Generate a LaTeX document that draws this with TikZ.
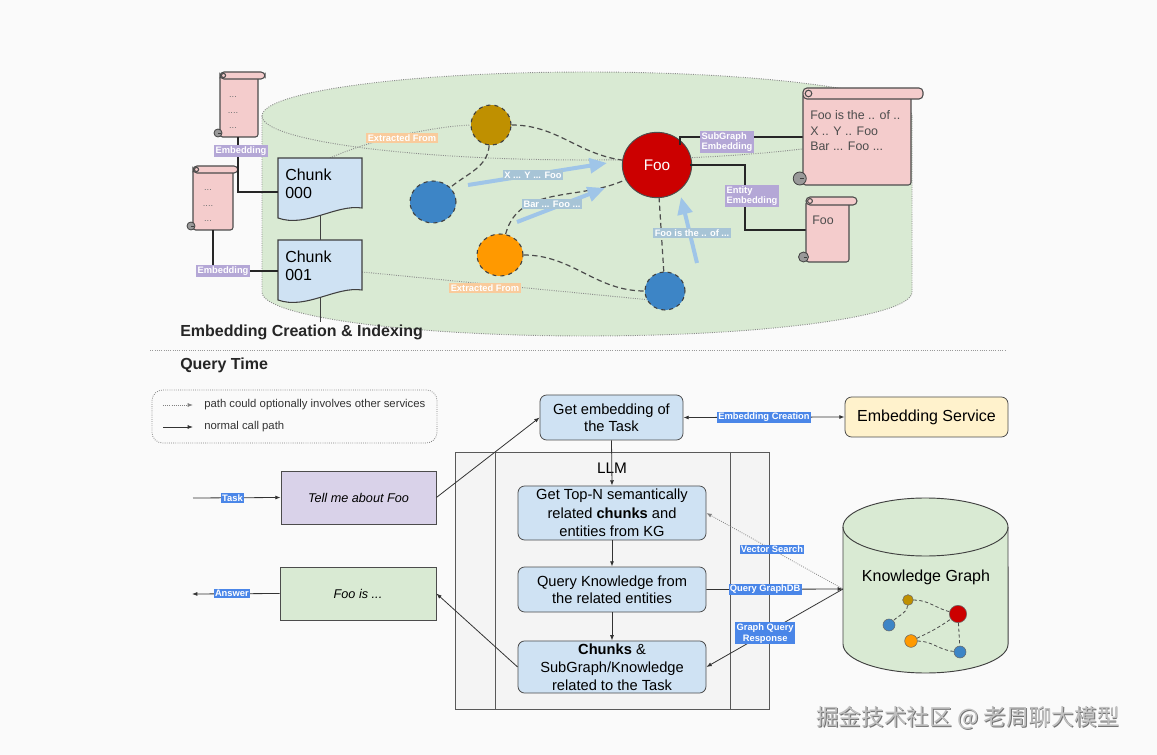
\documentclass[tikz,border=0pt]{standalone}
\usepackage{fontspec}
\setmainfont{Liberation Sans}
\newfontfamily\cjkfont{Noto Sans CJK SC}
\usetikzlibrary{shapes.geometric,arrows.meta,calc}
\definecolor{bgc}{HTML}{FAFAFA}
\definecolor{cylgreen}{HTML}{D9EAD3}
\definecolor{chunkblue}{HTML}{CFE2F3}
\definecolor{scrollpink}{HTML}{F4CCCC}
\definecolor{lblpurple}{HTML}{B4A7D6}
\definecolor{lblorange}{HTML}{F9CB9C}
\definecolor{lblsteel}{HTML}{A7C4D6}
\definecolor{lblblue}{HTML}{4A86E8}
\definecolor{arrowblue}{HTML}{9FC5E8}
\definecolor{gold}{HTML}{BF9000}
\definecolor{nodeblue}{HTML}{3D85C6}
\definecolor{nodeorange}{HTML}{FF9900}
\definecolor{nodered}{HTML}{CC0000}
\definecolor{lavender}{HTML}{D9D2E9}
\definecolor{svcyellow}{HTML}{FFF2CC}
\definecolor{llmgray}{HTML}{F4F4F4}
\newcommand\fsz[2]{\fontsize{#1}{#2}\selectfont}
% scroll: #1 x1, #2 y1, #3 x2, #4 y2, #5 roll right, #6 roll height, #7 bottom curl radius
\newcommand\scrollshape[7]{%
  \filldraw[scrollst, rounded corners=2pt] (#1,{#2+#6/2}) rectangle (#3,#4);
  \filldraw[scrollst, rounded corners=3pt] (#1,#2) rectangle (#5,{#2+#6});
  \draw[scrollst, fill=none] ({#1+#6*0.5},{#2+#6*0.5}) circle ({#6*0.3});
  \filldraw[fill=black!40, draw=black!75, line width=0.6pt] ({#1-0.5*#7},{#4-#7}) circle (#7);
  \draw[black!75, line width=0.6pt] ({#1-0.5*#7},{#4-#7}) -- ({#1+0.2*#7},{#4-#7});
}
\newcommand\chunkdoc[2]{%
  \filldraw[chunkst] (#1,#2) -- ({#1+84},#2) -- ({#1+84},{#2+50})
    .. controls ({#1+58},{#2+46}) and ({#1+28},{#2+70}) .. (#1,{#2+60}) -- cycle;
}
\begin{document}
\begin{tikzpicture}[x=0.75pt,y=-0.75pt,
  tag/.style={text=white, font={\bfseries\fsz{7}{8}}, inner sep=1pt, align=left},
  ptag/.style={tag, fill=lblpurple},
  otag/.style={tag, fill=lblorange},
  stag/.style={tag, fill=lblsteel},
  btag/.style={tag, fill=lblblue, align=center},
  cyldot/.style={draw=black!45, densely dotted, line width=0.7pt},
  exline/.style={draw=black!45, densely dotted, line width=0.7pt},
  gedge/.style={draw=black!70, dash pattern=on 4pt off 2.5pt, line width=0.9pt},
  gnode/.style={ellipse, draw=black!75, dashed, line width=0.8pt, inner sep=0pt},
  kgnode/.style={circle, draw=black!60, line width=0.4pt, inner sep=0pt},
  kgedge/.style={draw=black!70, dash pattern=on 2.5pt off 1.8pt, line width=0.6pt},
  lbarrow/.style={draw=arrowblue, line width=3pt, -{Triangle[length=13pt,width=11pt]}},
  thickline/.style={draw=black!85, line width=2pt},
  thinline/.style={draw=black!75, line width=0.7pt},
  scrollst/.style={fill=scrollpink, draw=black!70, line width=0.8pt},
  chunkst/.style={fill=chunkblue, draw=black!75, line width=0.8pt},
  qbox/.style={draw=black!70, fill=chunkblue, rounded corners=5pt, line width=0.6pt, align=center, inner sep=2pt},
  arr/.style={draw=black!80, line width=0.6pt, -{Latex[length=4pt,width=3pt]}},
  darr/.style={draw=black!50, densely dotted, line width=0.6pt, -{Latex[length=4pt,width=3pt]}},
]
\useasboundingbox (0,0) rectangle (1157,755);
\fill[bgc] (0,0) rectangle (1157,755);

% ---------------- top: cylinder ----------------
\fill[cylgreen] (262,116) arc[start angle=180,end angle=0,x radius=243.75pt,y radius=33pt]
  -- (912,292) arc[start angle=0,end angle=-180,x radius=243.75pt,y radius=33pt] -- cycle;
\draw[cyldot] (587,116) ellipse [x radius=243.75pt, y radius=33pt];
\draw[cyldot] (262,116) -- (262,292) arc[start angle=180,end angle=360,x radius=243.75pt,y radius=33pt] -- (912,116);

% chunk connector lines
\coordinate (c0b) at (320,212);
\coordinate (c1t) at (320,240);
\coordinate (c1b) at (320,298);
\coordinate (c1end) at (320,322);
\draw[thinline] (c0b) -- (c1t);
\draw[thinline] (c1b) -- (c1end);

% graph nodes
\node[gnode, fill=gold, minimum width=30pt, minimum height=30pt] (yel) at (491,125) {};
\node[gnode, fill=nodeblue, minimum width=34.5pt, minimum height=31.5pt] (blu1) at (433,202) {};
\node[gnode, fill=nodeorange, minimum width=34.5pt, minimum height=31.5pt] (ora) at (500,255) {};
\node[gnode, fill=nodeblue, minimum width=30pt, minimum height=28.5pt] (blu2) at (665,291) {};
\node[ellipse, draw=black!70, line width=0.7pt, fill=nodered, minimum width=52pt, minimum height=49pt,
      text=white, font=\fsz{11.5}{13}] (foo) at (657,165) {Foo};

% extracted-from dotted lines
\coordinate (c0top) at (330,158);
\coordinate (c1r) at (362,272);
\draw[exline] (c0top) .. controls (370,140) and (430,127) .. (yel.west);
\draw[exline] (c1r) -- (blu2.205);

% dashed graph edges
\draw[gedge] (yel) to[out=0,in=172] (foo);
\draw[gedge] (yel) to[out=-95,in=40] (blu1);
\draw[gedge] (ora) to[out=75,in=-155] (foo);
\draw[gedge] (ora) to[out=0,in=180] (blu2);
\draw[gedge] (blu2) -- (foo);

% light blue arrows
\coordinate (a1s) at (468,185); \coordinate (a1e) at (607,163);
\coordinate (a2s) at (517,222); \coordinate (a2e) at (605,188);
\coordinate (a3s) at (697,263); \coordinate (a3e) at (681,197);
\draw[lbarrow] (a1s) -- (a1e);
\draw[lbarrow] (a2s) -- (a2e);
\draw[lbarrow] (a3s) -- (a3e);
\node[stag] (t1) at (533,175) {X ... Y ... Foo};
\node[stag] (t2) at (552,204) {Bar ... Foo ...};
\node[stag] (t3) at (692,233) {Foo is the .. of ...};
\node[otag] (ex1) at (402,138) {Extracted From};
\node[otag] (ex2) at (485,288) {Extracted From};

% chunks
\chunkdoc{278}{158}
\chunkdoc{278}{240}
\node[anchor=west, align=left, font=\fsz{12}{13.5}, inner sep=0pt] (chunk0) at (285,184) {Chunk\\000};
\node[anchor=west, align=left, font=\fsz{12}{13.5}, inner sep=0pt] (chunk1) at (285,266) {Chunk\\001};

% left scrolls
\scrollshape{220}{72}{258}{137}{265}{7}{4}
\scrollshape{193}{166}{233}{230}{238}{7}{4}
\node[font=\fsz{7}{8}, text=black!55] at (233,97) {...};
\node[font=\fsz{7}{8}, text=black!55] at (233,113) {....};
\node[font=\fsz{7}{8}, text=black!55] at (233,128) {...};
\node[font=\fsz{7}{8}, text=black!55] at (208,190) {...};
\node[font=\fsz{7}{8}, text=black!55] at (208,206) {....};
\node[font=\fsz{7}{8}, text=black!55] at (208,221) {...};
\coordinate (s1b) at (238,137);
\coordinate (s2b) at (213,230);
\coordinate (c0l) at (278,192);
\coordinate (c1l) at (278,271);
\draw[thickline] (s1b) |- (c0l);
\draw[thickline] (s2b) |- (c1l);
\node[ptag] (e1) at (241,151) {Embedding};
\node[ptag] (e2) at (223,271) {Embedding};

% right scrolls
\coordinate (foosg) at (680,145);
\coordinate (bigscl) at (803,137);
\coordinate (fooen) at (690,165);
\coordinate (smscl) at (806,230);
\draw[thickline] (foosg) |- (bigscl);
\draw[thickline] (fooen) -- (745,165) |- (smscl);
\scrollshape{803}{88}{911}{185}{923}{11}{6.5}
\scrollshape{806}{197}{849}{262}{857}{8}{5}
\node[anchor=west, align=left, font=\fsz{9.3}{11.6}, text=black!70, inner sep=0pt] (bigtxt) at (810,131) {Foo is the .. of ..\\X .. Y .. Foo\\Bar ... Foo ...};
\node[font=\fsz{9.3}{11}, text=black!70] (smtxt) at (823,220) {Foo};
\node[ptag] (sg) at (727,142) {SubGraph\\Embedding};
\node[ptag] (en) at (752,196) {Entity\\Embedding};

% headings
\node[anchor=west, font={\bfseries\fsz{12}{14}}, text=black!85, inner sep=0pt] (h1) at (180,332) {Embedding Creation \& Indexing};
\draw[draw=black!40, densely dotted, line width=0.7pt] (150,350) -- (1005,350);
\node[anchor=west, font={\bfseries\fsz{12}{14}}, text=black!85, inner sep=0pt] (h2) at (180,365) {Query Time};

% ---------------- bottom: query time ----------------
% legend
\node[draw=black!50, densely dotted, line width=0.6pt, rounded corners=8pt, minimum width=213.75pt, minimum height=39.75pt] (legend) at (294.5,416.5) {};
\coordinate (l1a) at (163,405); \coordinate (l1b) at (193,405);
\coordinate (l2a) at (163,427); \coordinate (l2b) at (193,427);
\draw[darr] (l1a) -- (l1b);
\draw[arr] (l2a) -- (l2b);
\node[anchor=west, font=\fsz{8.5}{10}, text=black!80, inner sep=0pt] (l1t) at (204,405) {path could optionally involves other services};
\node[anchor=west, font=\fsz{8.5}{10}, text=black!80, inner sep=0pt] (l2t) at (204,427) {normal call path};

% LLM container
\node[draw=black!65, fill=llmgray, line width=0.7pt, minimum width=235.5pt, minimum height=192.75pt, anchor=north west, inner sep=0pt] (llm) at (455,452) {};
\coordinate (ln1t) at (495,452); \coordinate (ln1b) at (495,709);
\coordinate (ln2t) at (730,452); \coordinate (ln2b) at (730,709);
\draw[draw=black!65, line width=0.7pt] (ln1t) -- (ln1b);
\draw[draw=black!65, line width=0.7pt] (ln2t) -- (ln2b);
\node[font=\fsz{11.5}{13}] (llmlbl) at (612,468) {LLM};

% boxes
\node[qbox, font=\fsz{11}{12.8}, minimum width=107.25pt, minimum height=33.75pt] (getemb) at (611.5,417.5) {Get embedding of\\the Task};
\node[qbox, font=\fsz{12}{14}, fill=svcyellow, minimum width=122.25pt, minimum height=30pt] (embsvc) at (926.5,417) {Embedding Service};
\node[qbox, font=\fsz{11}{13.8}, minimum width=141pt, minimum height=40.5pt] (box1) at (612,513) {Get Top-N semantically\\related \textbf{chunks} and\\entities from KG};
\node[qbox, font=\fsz{11}{13}, minimum width=141pt, minimum height=33.75pt] (box2) at (612,589.5) {Query Knowledge from\\the related entities};
\node[qbox, font=\fsz{11}{13.5}, minimum width=141pt, minimum height=39pt] (box3) at (612,667) {\textbf{Chunks} \&\\SubGraph/Knowledge\\related to the Task};

\node[draw=black!70, fill=lavender, line width=0.6pt, minimum width=116.25pt, minimum height=39.75pt, font={\itshape\fsz{9.5}{11}}] (tell) at (358.5,497.5) {Tell me about Foo};
\node[draw=black!70, fill=cylgreen, line width=0.6pt, minimum width=117pt, minimum height=39.75pt, font={\itshape\fsz{9.5}{11}}] (fooIs) at (358,593.5) {Foo is ...};

% knowledge graph cylinder
\filldraw[fill=cylgreen, draw=black!75, line width=0.7pt] (843,527) -- (843,644)
  arc[start angle=180,end angle=360,x radius=61.9pt,y radius=21.75pt] -- (1008,527)
  arc[start angle=0,end angle=180,x radius=61.9pt,y radius=21.75pt] -- cycle;
\draw[draw=black!75, line width=0.7pt] (843,527) arc[start angle=180,end angle=360,x radius=61.9pt,y radius=21.75pt];
\node[font=\fsz{12}{14}] (kgtxt) at (926,577) {Knowledge Graph};
\coordinate (kgL) at (843,589);
\node[kgnode, fill=gold, minimum size=8pt] (kgy) at (908,600) {};
\node[kgnode, fill=nodered, minimum size=13pt] (kgr) at (958,614) {};
\node[kgnode, fill=nodeblue, minimum size=9pt] (kgb1) at (889,625) {};
\node[kgnode, fill=nodeorange, minimum size=9.5pt] (kgo) at (911,641) {};
\node[kgnode, fill=nodeblue, minimum size=9pt] (kgb2) at (960,652) {};
\draw[kgedge] (kgy) to[out=0,in=165] (kgr);
\draw[kgedge] (kgy) to[out=-95,in=45] (kgb1);
\draw[kgedge] (kgo) to[out=25,in=-145] (kgr);
\draw[kgedge] (kgo) to[out=0,in=175] (kgb2);
\draw[kgedge] (kgr) -- (kgb2);

% connectors
\coordinate (taskin) at (193,498);
\coordinate (ansout) at (192,594);
\draw[arr] (taskin) -- (tell.west) node[btag, pos=0.45] {Task};
\draw[arr] (fooIs.west) -- (ansout) node[btag, pos=0.545] {Answer};
\draw[arr] (tell.east) -- (getemb.west);
\draw[arr] (box3.west) -- (fooIs.east);
\draw[arr] (getemb.south) -- (box1.north);
\draw[arr] (box1.south) -- (box2.north);
\draw[arr] (box2.south) -- (box3.north);
\draw[draw=black!80, line width=0.6pt, {Latex[length=4pt,width=3pt]}-{Latex[length=4pt,width=3pt]}] (getemb.east) -- (embsvc.west) node[btag, pos=0.5] {Embedding Creation};
\draw[darr] (kgL) -- (box1.east) node[btag, pos=0.52] {Vector Search};
\draw[arr] (box2.east) -- (kgL) node[btag, pos=0.43] {Query GraphDB};
\draw[arr] (kgL) -- (box3.east) node[btag, pos=0.57] {Graph Query\\Response};

% watermark
\node[font=\cjkfont\fsz{17}{20}, text=black!55] at (968.8,718.8) {掘金技术社区 @ 老周聊大模型};
\node[font=\cjkfont\fsz{17}{20}, text=black!25] (wm) at (968,718) {掘金技术社区 @ 老周聊大模型};
\end{tikzpicture}
\end{document}
